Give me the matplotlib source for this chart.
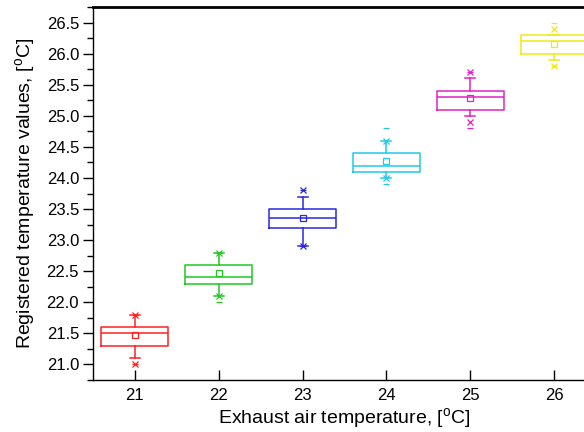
import matplotlib
matplotlib.use("Agg")
import matplotlib.pyplot as plt
from matplotlib.ticker import MultipleLocator

plt.rcParams['font.family'] = ['Liberation Sans', 'DejaVu Sans']

# exhaust air temperature groups
groups = [21, 22, 23, 24, 25, 26]
q1 = [21.3, 22.3, 23.2, 24.1, 25.1, 26.0]
med = [21.5, 22.4, 23.35, 24.2, 25.3, 26.2]
q3 = [21.6, 22.6, 23.5, 24.4, 25.4, 26.3]
mean = [21.48, 22.47, 23.35, 24.27, 25.28, 26.16]
whis_lo = [21.1, 22.1, 22.9, 24.0, 25.0, 25.9]
whis_hi = [21.8, 22.8, 23.7, 24.6, 25.6, 26.3]
p1 = [21.0, 22.1, 22.9, 24.0, 24.9, 25.8]      # x markers
p99 = [21.8, 22.8, 23.8, 24.6, 25.7, 26.4]
vmin = [21.0, 22.0, 22.9, 23.9, 24.8, 25.8]    # dash markers
vmax = [21.8, 22.8, 23.8, 24.8, 25.7, 26.5]
colors = ['#ff2020', '#20c820', '#2828e0', '#20c8e8', '#e020c8', '#f0e818']

fig = plt.figure(figsize=(5.84, 4.32), dpi=100)
ax = fig.add_axes([93/584, 52/432, 503/584, 373/432])

for i, g in enumerate(groups):
    st = [dict(med=med[i], q1=q1[i], q3=q3[i], mean=mean[i],
               whislo=whis_lo[i], whishi=whis_hi[i], fliers=[])]
    c = colors[i]
    ax.bxp(st, positions=[g], widths=0.8, capwidths=0.12, showmeans=True,
           boxprops=dict(color=c, lw=1.1),
           medianprops=dict(color=c, lw=1.1),
           whiskerprops=dict(color=c, lw=1.1),
           capprops=dict(color=c, lw=1.1),
           meanprops=dict(marker='s', markerfacecolor='none',
                          markeredgecolor=c, markersize=5, mew=0.9),
           manage_ticks=False)
    ax.plot([g, g], [p1[i], p99[i]], ls='none', marker='x', color=c,
            ms=5, mew=0.9)
    ax.plot([g, g], [vmin[i], vmax[i]], ls='none', marker='_', color=c,
            ms=5, mew=0.9)

ax.set_xlim(20.5, 26.5)
ax.set_ylim(20.75, 26.75)
ax.xaxis.set_major_locator(MultipleLocator(1))
ax.yaxis.set_major_locator(MultipleLocator(0.5))
ax.yaxis.set_minor_locator(MultipleLocator(0.25))
ax.yaxis.set_major_formatter(matplotlib.ticker.FormatStrFormatter('%.1f'))
ax.tick_params(axis='x', direction='in', length=7, width=1, labelsize=12, pad=6)
ax.tick_params(axis='y', which='major', direction='out', length=7, width=1, labelsize=12, pad=3)
ax.tick_params(axis='y', which='minor', direction='out', length=4, width=1)
ax.spines['top'].set_linewidth(2)
for s in ['left', 'bottom', 'right']:
    ax.spines[s].set_linewidth(1)

ax.set_xlabel('Exhaust air temperature, [$^\\mathregular{o}$C]', fontsize=14, labelpad=2)
ax.set_ylabel('Registered temperature values, [$^\\mathregular{o}$C]', fontsize=14, labelpad=6)

fig.savefig('out.png', dpi=100)
